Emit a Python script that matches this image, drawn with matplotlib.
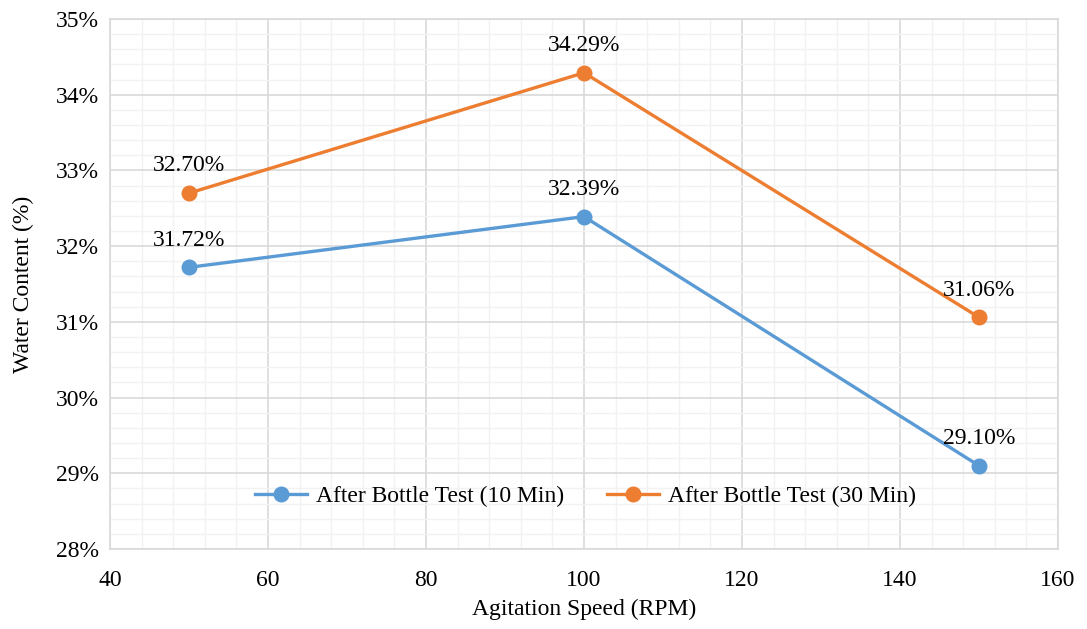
import matplotlib
matplotlib.use("Agg")
import matplotlib.pyplot as plt
from matplotlib.ticker import MultipleLocator, FuncFormatter

rpm = [50, 100, 150]
wc_10 = [31.72, 32.39, 29.10]
wc_30 = [32.70, 34.29, 31.06]
series_names = ["After Bottle Test (10 Min)", "After Bottle Test (30 Min)"]
colors = ["#5B9BD5", "#ED7D31"]

plt.rcParams['font.family'] = ['Liberation Serif', 'DejaVu Serif']
fs = 17

fig = plt.figure(figsize=(10.87, 6.29), dpi=100)
ax = fig.add_axes([0.1012, 0.1272, 0.8721, 0.8426])

for vals, name, c in zip([wc_10, wc_30], series_names, colors):
    ax.plot(rpm, vals, color=c, lw=2.4, marker='o', ms=10.5, label=name, zorder=3)
    for x, y in zip(rpm, vals):
        ax.annotate(f"{y:.2f}%", (x, y), xytext=(0, 12), textcoords='offset points',
                    ha='center', va='bottom', fontsize=fs, color='black')

ax.set_xlim(40, 160)
ax.set_ylim(28, 35)
ax.xaxis.set_major_locator(MultipleLocator(20))
ax.xaxis.set_minor_locator(MultipleLocator(4))
ax.yaxis.set_major_locator(MultipleLocator(1))
ax.yaxis.set_minor_locator(MultipleLocator(0.2))
ax.yaxis.set_major_formatter(FuncFormatter(lambda v, p: f"{v:.0f}%"))
ax.grid(which='major', color='#D9D9D9', lw=1.2, zorder=0)
ax.grid(which='minor', color='#F2F2F2', lw=1.0, zorder=0)
ax.set_axisbelow(True)
ax.tick_params(which='both', length=0, labelsize=fs)
ax.tick_params(axis='x', pad=15)
ax.tick_params(axis='y', pad=8)
for s in ax.spines.values():
    s.set_color('#D9D9D9')
    s.set_linewidth(1.2)

ax.set_xlabel("Agitation Speed (RPM)", fontsize=fs, labelpad=6)
ax.set_ylabel("Water Content (%)", fontsize=fs, labelpad=16)

ax.legend(loc='center', bbox_to_anchor=(0.5385, (629 - 496) / 629), bbox_transform=fig.transFigure,
          ncol=2, frameon=False, fontsize=fs, handlelength=2.2, columnspacing=1.8,
          handletextpad=0.4)

fig.savefig("out.png", dpi=100)
